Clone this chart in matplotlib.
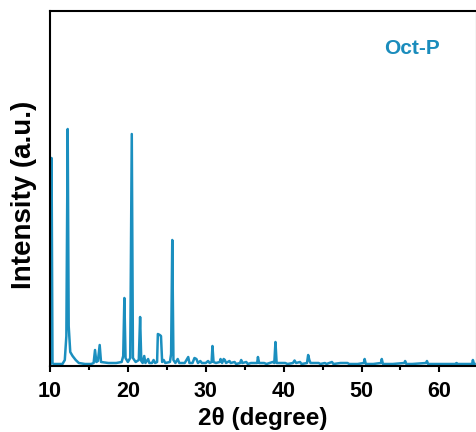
import matplotlib.pyplot as plt
from matplotlib.ticker import MultipleLocator

# XRD trace of Oct-P (2theta, intensity a.u.)
two_theta = [10.00, 10.10, 10.20, 10.32, 10.45, 11.60, 11.90, 12.10, 12.27, 12.40,
             12.60, 12.90, 13.30, 13.70, 14.50, 15.30, 15.60, 15.78, 15.95, 16.15,
             16.38, 16.55, 17.50, 18.50, 19.20, 19.40, 19.55, 19.70, 20.00, 20.30,
             20.50, 20.65, 21.00, 21.40, 21.57, 21.72, 21.90, 22.10, 22.25, 22.60,
             22.75, 23.10, 23.30, 23.50, 23.75, 23.85, 24.10, 24.25, 24.40, 24.60,
             24.80, 25.40, 25.55, 25.70, 25.85, 26.10, 26.40, 26.60, 27.30, 27.60,
             27.75, 27.90, 28.30, 28.55, 28.80, 29.00, 29.30, 29.50, 30.00, 30.30,
             30.50, 30.75, 30.86, 31.00, 31.30, 31.80, 31.90, 32.10, 32.30, 32.45,
             32.60, 33.05, 33.20, 33.70, 33.90, 34.40, 34.55, 34.70, 35.20, 35.40,
             35.80, 36.60, 36.70, 36.85, 37.50, 37.80, 38.60, 38.80, 38.95, 39.10,
             39.40, 40.20, 40.50, 41.20, 41.40, 41.60, 42.10, 42.30, 43.00, 43.15,
             43.30, 43.45, 44.50, 44.70, 45.30, 45.50, 46.20, 46.40, 47.30, 48.20,
             48.40, 49.50, 50.30, 50.40, 50.55, 51.50, 52.50, 52.60, 52.75, 54.00,
             55.50, 55.60, 55.75, 56.50, 58.30, 58.40, 58.55, 60.00, 62.10, 62.20,
             62.35, 64.20, 64.30, 64.45, 65.00]
intensity = [2, 2, 208, 3, 2, 2, 6, 30, 237, 40,
             14, 10, 6, 3, 2, 2, 3, 16, 4, 5,
             21, 4, 3, 3, 4, 10, 68, 8, 4, 8,
             232, 8, 4, 6, 49, 5, 3, 10, 3, 7,
             3, 3, 6, 3, 4, 32, 31, 30, 4, 6,
             3, 4, 12, 126, 6, 3, 7, 3, 3, 7,
             9, 3, 3, 8, 7, 3, 5, 3, 3, 5,
             3, 4, 20, 4, 3, 4, 7, 3, 7, 6,
             3, 5, 3, 4, 2, 3, 6, 3, 4, 2,
             3, 3, 9, 3, 3, 2, 4, 3, 24, 3,
             3, 3, 2, 3, 5.5, 3, 4, 2, 3, 11,
             6, 3, 3, 2, 3, 2, 4, 2, 3, 3,
             2, 2, 3, 7, 2, 2, 3, 7, 2, 2,
             3, 5, 2, 2, 3, 5, 2, 2, 2, 3,
             2, 2, 6, 2, 2]

x_ticks = [10, 20, 30, 40, 50, 60]
sample_name = 'Oct-P'
line_color = '#1b8fbf'

plt.rcParams['font.family'] = ['Liberation Sans', 'DejaVu Sans']
plt.rcParams['font.weight'] = 'bold'

fig = plt.figure(figsize=(4.77, 4.32), dpi=100)
ax = fig.add_axes([50 / 477, 66 / 432, 426 / 477, 355 / 432])

ax.plot(two_theta, intensity, color=line_color, lw=1.8)

ax.set_xlim(10, 64.7)
ax.set_ylim(0, 355)
ax.set_xticks(x_ticks)
ax.xaxis.set_minor_locator(MultipleLocator(5))
ax.set_yticks([])

# spines and ticks
for side in ['left', 'bottom', 'top']:
    ax.spines[side].set_linewidth(1.5)
ax.spines['right'].set_color('#cccccc')
ax.spines['right'].set_linewidth(1)
ax.tick_params(axis='x', which='major', direction='out', length=4, width=1.5,
               labelsize=15.5, pad=6.5)
ax.tick_params(axis='x', which='minor', direction='out', length=3, width=1.5)
for lbl in ax.get_xticklabels():
    lbl.set_fontweight('bold')

ax.set_xlabel('2θ (degree)', fontsize=17.5, fontweight='bold')
ax.xaxis.set_label_coords(0.5, -0.115)
ax.set_ylabel('Intensity (a.u.)', fontsize=20, fontweight='bold')
ax.yaxis.set_label_coords(-0.03, 0.482)

ax.text(0.85, 0.893, sample_name, transform=ax.transAxes, color='#1a8cbc',
        fontsize=15, fontweight='bold', ha='center', va='center')

fig.savefig('out.png', dpi=100)
